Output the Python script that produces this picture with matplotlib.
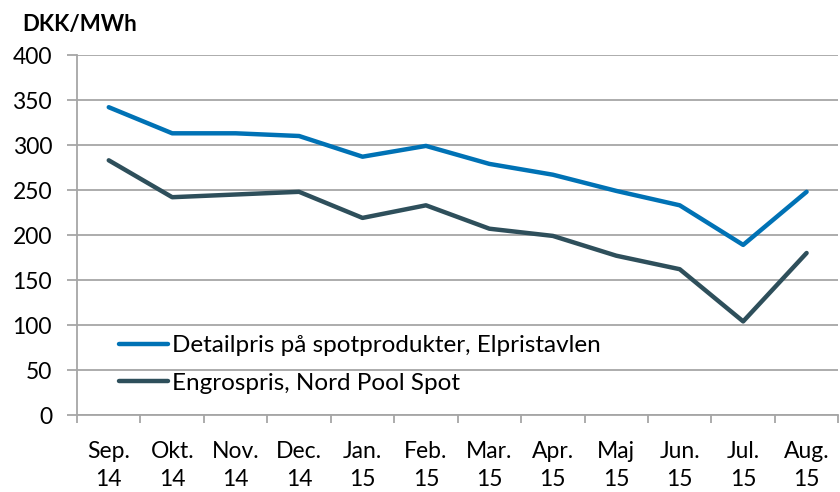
import numpy as np
import matplotlib.pyplot as plt
from matplotlib.ticker import FixedLocator

months = ["Sep.\n14", "Okt.\n14", "Nov.\n14", "Dec.\n14", "Jan.\n15", "Feb.\n15",
          "Mar.\n15", "Apr.\n15", "Maj\n15", "Jun.\n15", "Jul.\n15", "Aug.\n15"]
detail = [342, 313, 313, 310, 287, 299, 279, 267, 249, 233, 189, 248]
engros = [283, 242, 245, 248, 219, 233, 207, 199, 177, 162, 104, 180]
labels = ["Detailpris på spotprodukter, Elpristavlen", "Engrospris, Nord Pool Spot"]

plt.rcParams["font.family"] = ["Lato", "DejaVu Sans"]
grid_col = "#A6A6A6"

fig = plt.figure(figsize=(8.4, 4.92), dpi=100)
ax = fig.add_axes([0.0917, 0.1565, 0.9063, 0.7317])

x = np.arange(len(months))
ax.plot(x, detail, color="#0072B5", lw=3.2, solid_capstyle="round", solid_joinstyle="round", label=labels[0])
ax.plot(x, engros, color="#2E4F5B", lw=3.2, solid_capstyle="round", solid_joinstyle="round", label=labels[1])

ax.set_xlim(-0.5, len(months) - 0.5)
ax.set_ylim(0, 400)
ax.set_yticks(np.arange(0, 401, 50))
ax.yaxis.grid(True, color=grid_col, lw=1.3)
ax.set_axisbelow(True)

ax.set_xticks(x)
ax.set_xticklabels(months, fontsize=16.5, linespacing=1.4)
ax.xaxis.set_minor_locator(FixedLocator(np.arange(-0.5, len(months), 1)))
ax.tick_params(axis="x", which="major", length=0, pad=19)
ax.tick_params(axis="x", which="minor", length=6, width=1.3, color=grid_col)
ax.tick_params(axis="y", length=7, width=1.3, color=grid_col, labelsize=16.5, pad=11)

for s in ["top", "right"]:
    ax.spines[s].set_visible(False)
for s in ["left", "bottom"]:
    ax.spines[s].set_color(grid_col)
    ax.spines[s].set_linewidth(1.3)

leg = ax.legend(loc="lower left", bbox_to_anchor=(0.043, 0.032), frameon=False,
                fontsize=17.5, handlelength=2.0, handletextpad=0.15, labelspacing=0.68,
                borderaxespad=0)

fig.text(0.027, 0.95, "DKK/MWh", fontsize=16, fontweight="bold", ha="left", va="center")

fig.savefig("out.png", dpi=100)
